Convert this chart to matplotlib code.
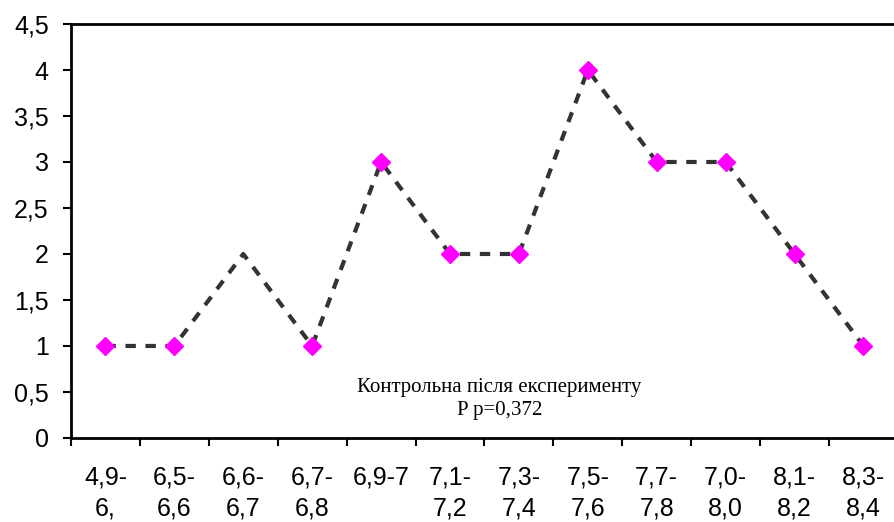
import matplotlib.pyplot as plt
import numpy as np

categories = ["4,9-\n6,", "6,5-\n6,6", "6,6-\n6,7", "6,7-\n6,8", "6,9-7\n", "7,1-\n7,2",
              "7,3-\n7,4", "7,5-\n7,6", "7,7-\n7,8", "7,0-\n8,0", "8,1-\n8,2", "8,3-\n8,4"]
values = [1, 1, 2, 1, 3, 2, 2, 4, 3, 3, 2, 1]
marked = [0, 1, 3, 4, 5, 6, 7, 8, 9, 10, 11]
yticks = [0, 0.5, 1, 1.5, 2, 2.5, 3, 3.5, 4, 4.5]

plt.rcParams["font.family"] = ["Liberation Sans", "DejaVu Sans"]

fig = plt.figure(figsize=(8.94, 5.22), dpi=100)
ax = fig.add_axes([0.0794, 0.161, 0.925, 0.793])

x = np.arange(len(values))
ax.plot(x, values, color="#333333", lw=3, ls=(0, (2.5, 2.3)), zorder=2)
ax.plot(x[marked], np.array(values)[marked], ls="none", marker="D", ms=9,
        color="#ff00ff", zorder=3)

ax.set_xlim(-0.5, len(values) - 0.5)
ax.set_ylim(0, 4.5)
ax.set_yticks(yticks)
ax.set_yticklabels([f"{v:g}".replace(".", ",") for v in yticks], fontsize=18)
ax.set_xticks(x)
ax.set_xticklabels(categories, fontsize=18, linespacing=1.35)
ax.set_xticks(np.arange(len(values) + 1) - 0.5, minor=True)
ax.tick_params(axis="x", which="major", length=0, pad=20)
ax.tick_params(axis="x", which="minor", length=6, width=1.5, direction="out")
ax.tick_params(axis="y", length=6, width=1.5, direction="out", pad=10)
for s in ax.spines.values():
    s.set_linewidth(2)

ax.text(0.518, 0.094, "Контрольна після експерименту\nP p=0,372", transform=ax.transAxes,
        ha="center", va="center", fontsize=15, family=["Liberation Serif", "DejaVu Serif"],
        linespacing=1.3)

fig.savefig("out.png", dpi=100)
